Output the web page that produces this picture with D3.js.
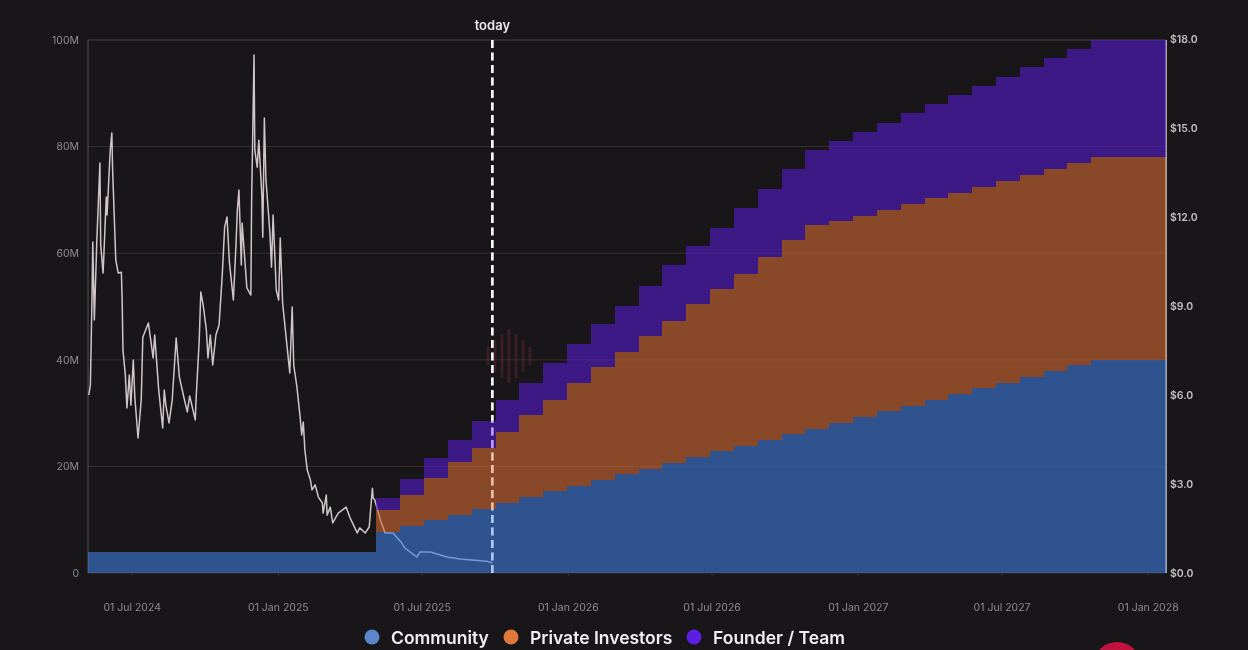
<!DOCTYPE html>
<html>
<head>
<meta charset="utf-8">
<script src="https://cdn.jsdelivr.net/npm/d3@7"></script>
<style>
  html, body { margin: 0; background: #181618; }
  svg { display: block; filter: blur(0.5px); }
  text { font-family: Inter, "Noto Sans", sans-serif; }
</style>
</head>
<body>
<script>
// token unlock schedule, values in millions of tokens
var unlockDates = ["2024-05-07", "2025-05-05", "2025-06-04", "2025-07-04", "2025-08-03", "2025-09-02", "2025-10-02", "2025-11-01", "2025-12-01", "2025-12-31", "2026-01-30", "2026-03-01", "2026-03-31", "2026-04-30", "2026-05-30", "2026-06-29", "2026-07-29", "2026-08-28", "2026-09-27", "2026-10-27", "2026-11-26", "2026-12-26", "2027-01-25", "2027-02-24", "2027-03-26", "2027-04-25", "2027-05-25", "2027-06-24", "2027-07-24", "2027-08-23", "2027-09-22", "2027-10-22", "2028-01-24"];
var community = [4, 7.7, 8.8, 9.9, 10.9, 12, 13.1, 14.2, 15.3, 16.3, 17.4, 18.5, 19.6, 20.7, 21.7, 22.8, 23.9, 25, 26, 27.1, 28.2, 29.3, 30.4, 31.4, 32.5, 33.6, 34.7, 35.7, 36.8, 37.9, 39, 40, 40];
var privateInvestors = [0, 4.1, 5.8, 7.9, 9.9, 11.5, 13.4, 15.4, 17.2, 19.3, 21.2, 23, 24.9, 26.6, 28.8, 30.5, 32.2, 34.3, 36.5, 38.2, 37.8, 37.7, 37.7, 37.8, 37.9, 37.7, 37.7, 37.8, 37.9, 37.9, 37.9, 38, 38];
var founderTeam = [0, 2.3, 3, 3.8, 4.2, 5, 6, 6, 6.9, 7.4, 8.1, 8.6, 9.3, 10.5, 10.9, 11.4, 12.4, 12.7, 13.3, 14.1, 15, 15.7, 16.3, 17.1, 17.6, 18.4, 19, 19.6, 20.2, 20.8, 21.4, 22, 22];

// token price, days counted from the first trading day
var priceStart = "2024-05-07";
var priceDays = [1, 3, 5, 6, 8, 11, 15, 16, 19, 23, 24, 28, 30, 31, 35, 38, 42, 43, 44, 47, 49, 52, 54, 57, 59, 63, 67, 69, 76, 82, 84, 89, 94, 96, 98, 102, 106, 111, 115, 120, 125, 128, 135, 136, 140, 142, 145, 149, 151, 154, 157, 161, 165, 167, 169, 172, 175, 178, 183, 186, 188, 190, 193, 194, 200, 205, 206, 209, 210, 213, 215, 219, 220, 222, 224, 229, 231, 233, 237, 240, 242, 245, 254, 257, 259, 263, 267, 269, 271, 273, 276, 280, 282, 286, 290, 295, 296, 300, 301, 305, 308, 315, 320, 325, 330, 339, 342, 349, 354, 358, 359, 361, 368, 374, 384, 395, 399, 414, 418, 431, 452, 468, 502, 509];
var priceValues = [6, 6.34, 9.2, 11.16, 8.53, 11.12, 13.82, 11.05, 10.11, 12.67, 12.07, 14.26, 14.83, 13.58, 10.55, 10.11, 10.14, 9.2, 7.52, 6.67, 5.56, 6.67, 5.66, 7.18, 5.9, 4.55, 5.83, 7.95, 8.43, 7.25, 8.02, 6.17, 4.89, 6.17, 5.66, 5.06, 5.83, 7.92, 6.61, 6, 5.43, 5.97, 5.16, 5.83, 7.85, 9.47, 9.03, 8.19, 7.25, 8.02, 7.01, 8.02, 8.36, 9.2, 10.04, 11.66, 12, 10.48, 9.2, 10.89, 12.23, 12.91, 10.38, 11.8, 9.61, 9.37, 12.57, 17.46, 14.26, 13.68, 14.59, 12.67, 11.32, 15.34, 13.25, 11.46, 10.31, 12.07, 9.54, 9.2, 11.29, 9.1, 6.74, 8.97, 7.01, 6.27, 5.26, 4.65, 5.09, 4.15, 3.47, 3.13, 2.8, 2.97, 2.56, 2.36, 2.02, 2.63, 1.95, 2.22, 1.69, 2.02, 2.12, 2.22, 1.85, 1.35, 1.52, 1.35, 1.55, 2.86, 2.53, 2.46, 1.79, 1.35, 1.35, 1.01, 0.84, 0.54, 0.71, 0.71, 0.54, 0.47, 0.4, 0.34];

var tickDates = ["2024-07-01", "2025-01-01", "2025-07-01", "2026-01-01", "2026-07-01", "2027-01-01", "2027-07-01", "2028-01-01"];
var supplyTicks = [0, 20, 40, 60, 80, 100];
var priceTicks = [0, 3, 6, 9, 12, 15, 18];
var todayDate = "2025-09-28";
var seriesNames = ["Community", "Private Investors", "Founder / Team"];
var areaColors = ["#407de0", "#d66d36", "#571dce"];
var legendColors = ["#5b86cc", "#e0783c", "#5a1fe0"];

var parseDay = d3.utcParse("%Y-%m-%d");
// window.top can't be reassigned, so plot* names
var plotLeft = 88, plotRight = 1166, plotTop = 40, plotBottom = 573;

var svg = d3.select("body").append("svg")
  .attr("width", 1248)
  .attr("height", 650);

var x = d3.scaleUtc()
  .domain([parseDay(unlockDates[0]), parseDay(unlockDates[unlockDates.length - 1])])
  .range([plotLeft, plotRight]);
var ySupply = d3.scaleLinear().domain([0, 100]).range([plotBottom, plotTop]);
var yPrice = d3.scaleLinear().domain([0, 18]).range([plotBottom, plotTop - 1]);

// grid and axis lines go first, the translucent areas tint them
svg.append("g").selectAll("line")
  .data(supplyTicks)
  .join("line")
  .attr("x1", plotLeft)
  .attr("x2", plotRight)
  .attr("y1", d => ySupply(d))
  .attr("y2", d => ySupply(d))
  .attr("stroke", d => d == 100 ? "#444044" : "#3a2c2e")
  .attr("stroke-width", 1);

svg.append("line")
  .attr("x1", plotLeft).attr("x2", plotLeft)
  .attr("y1", plotTop).attr("y2", plotBottom)
  .attr("stroke", "#5a5658");
svg.append("line")
  .attr("x1", plotRight).attr("x2", plotRight)
  .attr("y1", plotTop).attr("y2", plotBottom)
  .attr("stroke", "#d8d4d8")
  .attr("stroke-width", 1.5);

// faint watermark mark behind the chart
var wm = svg.append("g").attr("fill", "#6b2c38").attr("opacity", 0.4);
[[-21, 9], [-14, 16], [-7, 22], [0, 27], [7, 22], [14, 16], [21, 9]].forEach(function (b) {
  wm.append("rect")
    .attr("x", 509 + b[0] - 1.5)
    .attr("y", 356 - b[1])
    .attr("width", 3)
    .attr("height", b[1] * 2);
});

// price line
var priceData = priceDays.map(function (d, i) {
  return { date: d3.utcDay.offset(parseDay(priceStart), d), value: priceValues[i] };
});
var priceLine = d3.line()
  .x(d => x(d.date))
  .y(d => yPrice(d.value));
svg.append("path")
  .datum(priceData)
  .attr("fill", "none")
  .attr("stroke", "#cfc5c7")
  .attr("stroke-width", 1.5)
  .attr("stroke-linejoin", "round")
  .attr("d", priceLine);

// today marker, drawn again over the areas further down
function todayLine(g) {
  return g.append("line")
    .attr("x1", x(parseDay(todayDate)))
    .attr("x2", x(parseDay(todayDate)))
    .attr("y1", plotTop)
    .attr("y2", plotBottom)
    .attr("stroke", "#ffffff")
    .attr("stroke-width", 2.5)
    .attr("stroke-dasharray", "8 4.5");
}
todayLine(svg);
svg.append("text")
  .attr("x", x(parseDay(todayDate)))
  .attr("y", 30)
  .attr("text-anchor", "middle")
  .attr("fill", "#e8e8e8")
  .attr("font-size", 13)
  .attr("font-weight", 600)
  .text("today");

// stacked unlock areas
var rows = unlockDates.map(function (d, i) {
  return { date: parseDay(d), 0: community[i], 1: privateInvestors[i], 2: founderTeam[i] };
});
var stacked = d3.stack().keys([0, 1, 2])(rows);
var area = d3.area()
  .curve(d3.curveStepAfter)
  .x(d => x(d.data.date))
  .y0(d => ySupply(d[0]))
  .y1(d => ySupply(d[1]));
svg.append("g").selectAll("path")
  .data(stacked)
  .join("path")
  .attr("fill", (d, i) => areaColors[i])
  .attr("fill-opacity", 0.6)
  .attr("shape-rendering", "crispEdges")
  .attr("d", area);

todayLine(svg).attr("stroke-opacity", 0.35);

// axes
var xAxis = d3.axisBottom(x)
  .tickValues(tickDates.map(parseDay))
  .tickFormat(d3.utcFormat("%d %b %Y"))
  .tickSize(3)
  .tickPadding(28);
var leftAxis = d3.axisLeft(ySupply)
  .tickValues(supplyTicks)
  .tickFormat(d => d == 0 ? "0" : d + "M")
  .tickSize(0)
  .tickPadding(9);
var rightAxis = d3.axisRight(yPrice)
  .tickValues(priceTicks)
  .tickFormat(d => "$" + d.toFixed(1))
  .tickSize(0)
  .tickPadding(4);

svg.append("g").attr("transform", "translate(0," + plotBottom + ")").call(xAxis)
  .call(g => g.select(".domain").remove())
  .call(g => g.selectAll("line").attr("stroke", "#333"))
  .call(g => g.selectAll("text").attr("fill", "#8f8c8e").attr("font-size", 10.5));
svg.append("g").attr("transform", "translate(" + plotLeft + ",0)").call(leftAxis)
  .call(g => g.select(".domain").remove())
  .call(g => g.selectAll("text").attr("fill", "#8f8c8e").attr("font-size", 10.5));
svg.append("g").attr("transform", "translate(" + plotRight + ",0)").call(rightAxis)
  .call(g => g.select(".domain").remove())
  .call(g => g.selectAll("text").attr("fill", "#c4c0c2").attr("font-size", 10.5).attr("font-weight", 600));

// legend
var legendDots = [372, 511, 694];
var legend = svg.append("g").selectAll("g")
  .data(seriesNames)
  .join("g")
  .attr("transform", (d, i) => "translate(" + legendDots[i] + ",637)");
legend.append("circle")
  .attr("r", 7.5)
  .attr("fill", (d, i) => legendColors[i]);
legend.append("text")
  .attr("x", 19)
  .attr("y", 6.5)
  .attr("fill", "#f0f0f0")
  .attr("font-size", 17.5)
  .attr("font-weight", 600)
  .text(d => d);

// corner logo, cut off by the bottom of the picture
svg.append("ellipse")
  .attr("cx", 1117)
  .attr("cy", 662)
  .attr("rx", 22)
  .attr("ry", 20)
  .attr("fill", "#c4123f");
</script>
</body>
</html>
